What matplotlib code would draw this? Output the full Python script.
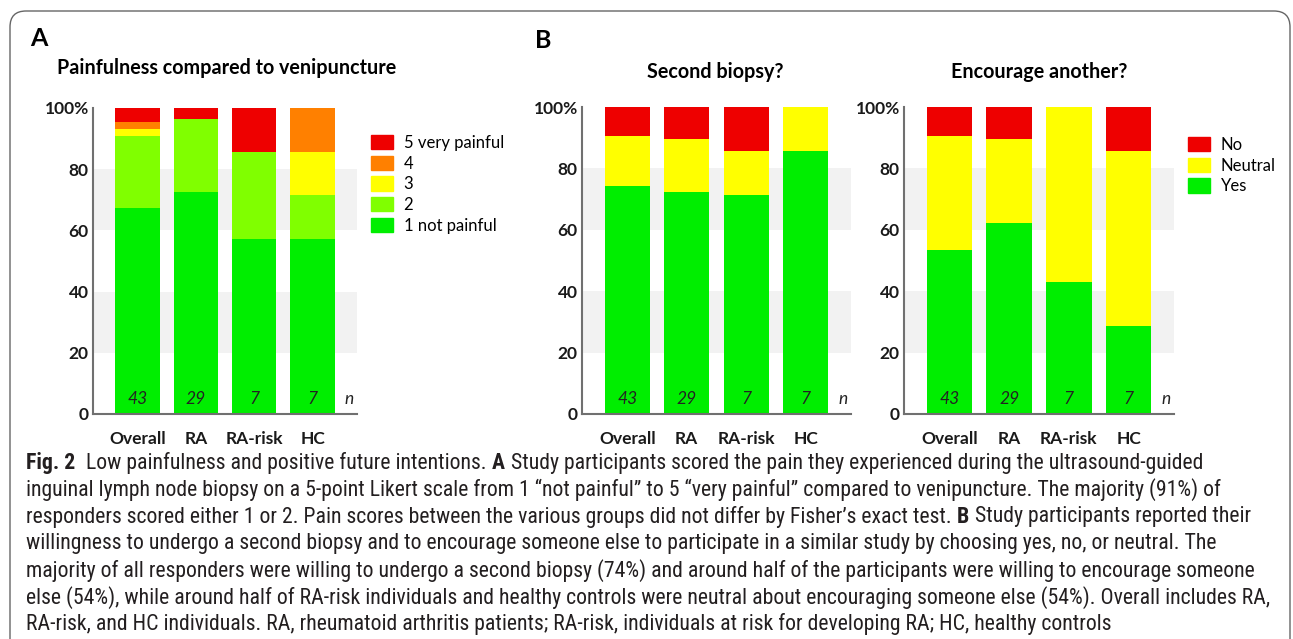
import matplotlib
matplotlib.use('Agg')
import matplotlib.pyplot as plt
from matplotlib.patches import FancyBboxPatch, Patch
from matplotlib.transforms import IdentityTransform
import numpy as np

groups = ['Overall', 'RA', 'RA-risk', 'HC']
n_total = [43, 29, 7, 7]

# A: number of responders per pain score
pain_labels = ['1 not painful', '2', '3', '4', '5 very painful']
pain_1 = [29, 21, 4, 4]
pain_2 = [10, 7, 2, 1]
pain_3 = [1, 0, 0, 1]
pain_4 = [1, 0, 0, 1]
pain_5 = [2, 1, 1, 0]

# B: yes / neutral / no counts
answer_labels = ['Yes', 'Neutral', 'No']
second_yes = [32, 21, 5, 6]
second_neutral = [7, 5, 1, 1]
second_no = [4, 3, 1, 0]
encourage_yes = [23, 18, 3, 2]
encourage_neutral = [16, 8, 4, 4]
encourage_no = [4, 3, 0, 1]

pain_colors = ['#00ee00', '#80ff00', '#ffff00', '#ff8000', '#ee0000']
answer_colors = ['#00ee00', '#ffff00', '#ee0000']

caption_lines = [
    [('Fig. 2', 'bold'), ('Low painfulness and positive future intentions.', 'normal'), ('A', 'bold'),
     ('Study participants scored the pain they experienced during the ultrasound-guided', 'normal')],
    [('inguinal lymph node biopsy on a 5-point Likert scale from 1 \u201cnot painful\u201d to 5 \u201cvery painful\u201d compared to venipuncture. The majority (91%) of', 'normal')],
    [('responders scored either 1 or 2. Pain scores between the various groups did not differ by Fisher\u2019s exact test.', 'normal'), ('B', 'bold'),
     ('Study participants reported their', 'normal')],
    [('willingness to undergo a second biopsy and to encourage someone else to participate in a similar study by choosing yes, no, or neutral. The', 'normal')],
    [('majority of all responders were willing to undergo a second biopsy (74%) and around half of the participants were willing to encourage someone', 'normal')],
    [('else (54%), while around half of RA-risk individuals and healthy controls were neutral about encouraging someone else (54%). Overall includes RA,', 'normal')],
    [('RA-risk, and HC individuals. RA, rheumatoid arthritis patients; RA-risk, individuals at risk for developing RA; HC, healthy controls', 'normal')],
]

W, H = 1293, 639
plt.rcParams['font.family'] = ['Lato', 'DejaVu Sans']
fig = plt.figure(figsize=(W / 100, H / 100), dpi=100)
fig.patch.set_facecolor('white')
FS = 12.5


def px_box(l, t, r, b):
    return [l / W, 1 - b / H, (r - l) / W, (b - t) / H]


def stacked(ax, series, colors):
    x = np.arange(len(groups))
    bottom = np.zeros(len(groups))
    for counts, c in zip(series, colors):
        pct = np.array(counts) / np.array(n_total) * 100
        ax.bar(x, pct, 0.76, bottom=bottom, color=c, linewidth=0, zorder=2)
        bottom += pct
    ax.axhspan(20, 40, color='#f2f2f2', zorder=0, lw=0)
    ax.axhspan(60, 80, color='#f2f2f2', zorder=0, lw=0)
    ax.set_xlim(-0.76, 3.76)
    ax.set_ylim(0, 100)
    ax.set_xticks(x)
    ax.set_xticklabels(groups, fontsize=FS, fontweight='bold', color='#1a1a1a')
    ax.set_yticks([0, 20, 40, 60, 80, 100])
    ax.set_yticklabels(['0', '20', '40', '60', '80', '100%'], fontsize=FS,
                       fontweight='bold', color='#1a1a1a')
    ax.tick_params(length=0, pad=3)
    ax.tick_params(axis='x', pad=12)
    for s in ['top', 'right']:
        ax.spines[s].set_visible(False)
    for s in ['left', 'bottom']:
        ax.spines[s].set_color('#707070')
        ax.spines[s].set_linewidth(1.5)
    for i, n in enumerate(n_total):
        ax.text(i, 4.9, str(n), ha='center', va='center', fontsize=FS,
                style='italic', color='#222222', zorder=3)
    ax.text(3.62, 4.9, 'n', ha='center', va='center', fontsize=FS,
            style='italic', color='#222222')


axA = fig.add_axes(px_box(93, 108, 357, 414))
stacked(axA, [pain_1, pain_2, pain_3, pain_4, pain_5], pain_colors)
axB1 = fig.add_axes(px_box(582, 107, 851, 414))
stacked(axB1, [second_yes, second_neutral, second_no], answer_colors)
axB2 = fig.add_axes(px_box(904, 107, 1174, 414))
stacked(axB2, [encourage_yes, encourage_neutral, encourage_no], answer_colors)

# legends
leg_kw = dict(loc='upper left', frameon=False, fontsize=12, borderpad=0, borderaxespad=0,
              handlelength=1.3, handleheight=0.95, labelspacing=0.28, handletextpad=0.65)
hA = [Patch(color=c) for c in pain_colors][::-1]
fig.legend(hA, pain_labels[::-1], bbox_to_anchor=(371 / W, 1 - 135 / H), **leg_kw)
hB = [Patch(color=c) for c in answer_colors][::-1]
fig.legend(hB, answer_labels[::-1], bbox_to_anchor=(1188 / W, 1 - 137 / H), **leg_kw)

# titles and panel letters
fig.text(30 / W, 1 - 39 / H, 'A', fontsize=18, fontweight='bold', va='center', ha='left')
fig.text(535 / W, 1 - 40 / H, 'B', fontsize=18, fontweight='bold', va='center', ha='left')
fig.text(57 / W, 1 - 68 / H, 'Painfulness compared to venipuncture', fontsize=14.2,
         fontweight='bold', va='center', ha='left')
fig.text(715 / W, 1 - 72 / H, 'Second biopsy?', fontsize=14.2, fontweight='bold',
         va='center', ha='center')
fig.text(1039 / W, 1 - 72 / H, 'Encourage another?', fontsize=14.2, fontweight='bold',
         va='center', ha='center')

# border around the figure
border = FancyBboxPatch((10, -30), 1280, H - 11 + 30, boxstyle='round,pad=0,rounding_size=16',
                        transform=IdentityTransform(), fill=False, edgecolor='#666666', lw=1.0)
fig.patches.append(border)

# caption, written segment by segment so the bold parts sit inline
renderer = fig.canvas.get_renderer()
cap_font = ['Roboto Condensed', 'Open Sans Condensed', 'Liberation Sans Narrow', 'Roboto']

# pick the size so the longest line spans the same width as in the original
probe = fig.text(0, 0, caption_lines[5][0][0], fontsize=10, family=cap_font)
probe_w = probe.get_window_extent(renderer).width
probe.remove()
cap_size = 10 * 1241 / probe_w
space = 0.25 * cap_size * 100 / 72

y0 = 463
for k, line in enumerate(caption_lines):
    x = 26
    y = y0 + k * 26.9
    for j, (txt, weight) in enumerate(line):
        t = fig.text(x / W, 1 - y / H, txt, fontsize=cap_size, fontweight=weight,
                     family=cap_font, va='center', ha='left', color='#231f20')
        ext = t.get_window_extent(renderer)
        gap = space * (2 if (k == 0 and j == 0) else 1)
        x = ext.x1 + gap

fig.savefig('out.png', dpi=100)
